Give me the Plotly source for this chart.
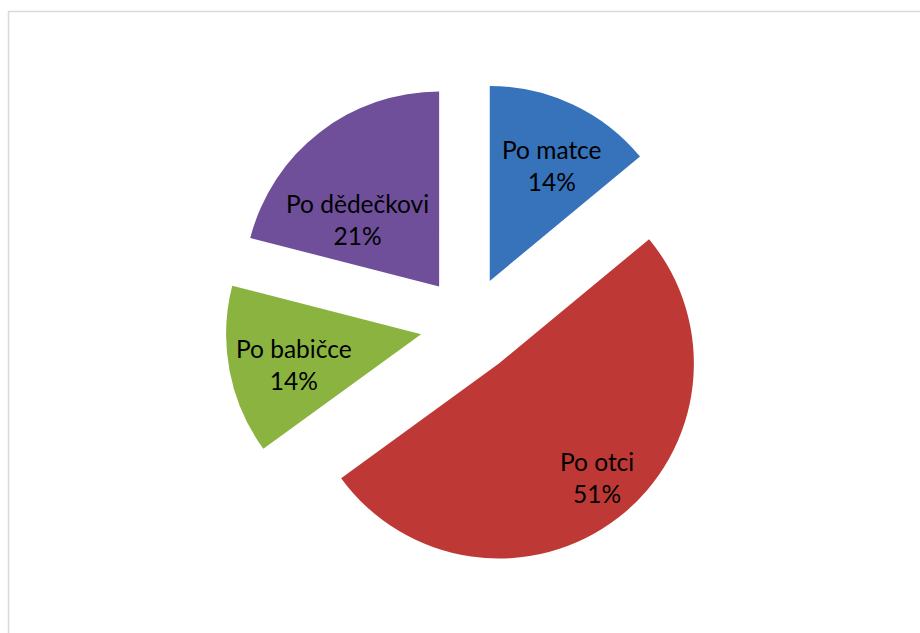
import math
import plotly.graph_objects as go

# Data
labels = ["Po matce", "Po otci", "Po babičce", "Po dědečkovi"]
values = [14, 51, 14, 21]
colors = ["#3673BB", "#BE3935", "#8AB33F", "#6F4F9A"]

# Layout geometry (pixels)
W, H = 920, 633
cx, cy = 469, 325          # pie centre
pull = 0.25
radius = 195
outer = radius * (1 + pull)
# label offset from each slice tip: (along bisector, across bisector), in radii
label_off = [(0.67, 0.04), (0.77, -0.04), (0.67, -0.03), (0.53, -0.12)]

fig = go.Figure(
    go.Pie(
        labels=labels,
        values=values,
        sort=False,
        direction="clockwise",
        rotation=0,
        pull=[pull] * len(values),
        marker=dict(colors=colors, line=dict(width=0)),
        textinfo="none",
        hoverinfo="label+percent",
        showlegend=False,
        domain=dict(
            x=[(cx - outer) / W, (cx + outer) / W],
            y=[1 - (cy + outer) / H, 1 - (cy - outer) / H],
        ),
    )
)

# Labels placed inside each slice, relative to its bisector
total = sum(values)
start = 0.0
annotations = []
for lab, val, (along, across) in zip(labels, values, label_off):
    ang = (start + val / 2) / total * 2 * math.pi
    start += val
    dx, dy = math.sin(ang), -math.cos(ang)
    px_, py_ = math.cos(ang), math.sin(ang)
    d = radius * pull + radius * along
    px = cx + d * dx + radius * across * px_
    py = cy + d * dy + radius * across * py_
    annotations.append(dict(
        x=px / W, y=1 - py / H, xref="paper", yref="paper",
        xanchor="center", yanchor="middle",
        text=f"{lab}<br>{round(val / total * 100)}%",
        showarrow=False, align="center",
        font=dict(family="Lato, Open Sans, sans-serif", size=24.5, color="#000000"),
    ))

fig.update_layout(
    width=W, height=H,
    margin=dict(l=0, r=0, t=0, b=0),
    paper_bgcolor="white",
    annotations=annotations,
    shapes=[dict(type="rect", xref="paper", yref="paper",
                 x0=8.5 / W, x1=1.01, y0=-0.01, y1=1 - 11.5 / H,
                 line=dict(color="#D9D9D9", width=1.5))],
)

fig.write_html("out.html")
